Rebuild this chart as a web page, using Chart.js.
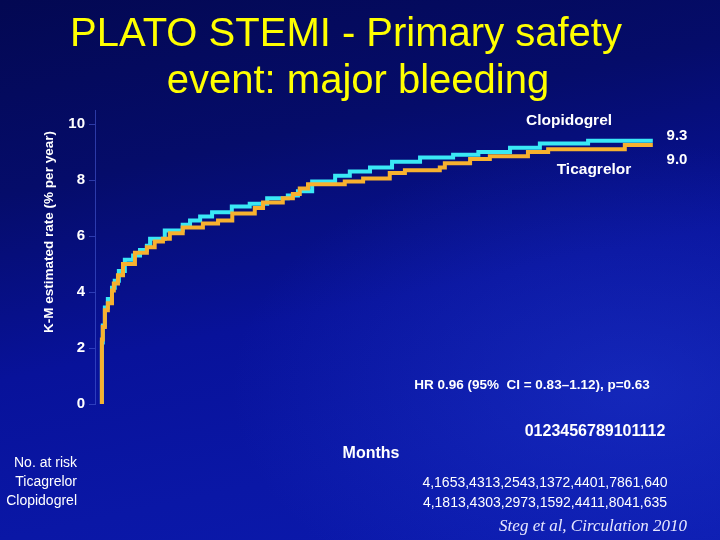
<!DOCTYPE html>
<html>
<head>
<meta charset="utf-8">
<script src="https://cdn.jsdelivr.net/npm/chart.js@4.4.1/dist/chart.umd.min.js"></script>
<style>
  body {
    margin: 0;
    width: 720px;
    height: 540px;
    overflow: hidden;
    background-color: #07108a;
    background-image:
      radial-gradient(ellipse at 88% 72%, rgba(40, 70, 225, 0.35), rgba(40, 70, 225, 0) 45%),
      linear-gradient(168deg, #030852 0%, #050c6a 28%, #08129a 55%, #0a17a6 78%, #0b1aae 100%);
  }
  #chart { display: block; }
</style>
</head>
<body>
<canvas id="chart" width="720" height="540"></canvas>
<script>
"use strict";

// chart data
const titleLines = ["PLATO STEMI - Primary safety", "event: major bleeding"];
const seriesNames = ["Ticagrelor", "Clopidogrel"];
const endLabels = ["9.0", "9.3"];

// months at each step and K-M rate (% per year) after it
const monthsTica = [0, 0.02, 0.065, 0.13, 0.22, 0.26, 0.35, 0.46, 0.72, 0.98, 1.15, 1.33, 1.48, 1.76, 2.2, 2.53, 2.84, 3.33, 3.51, 3.94, 4.16, 4.31, 4.49, 5.29, 5.69, 6.27, 6.6, 7.36, 7.47, 8.02, 8.45, 9.28, 9.72, 11.39, 11.94, 12.0];
const rateTica = [0, 2.3, 2.75, 3.35, 3.6, 4.05, 4.3, 4.6, 5.0, 5.4, 5.6, 5.8, 5.9, 6.1, 6.3, 6.45, 6.55, 6.8, 7.0, 7.2, 7.35, 7.5, 7.7, 7.85, 7.95, 8.05, 8.25, 8.35, 8.45, 8.6, 8.75, 8.85, 9.0, 9.1, 9.25, 9.25];

const monthsClopi = [0, 0.02, 0.065, 0.13, 0.22, 0.28, 0.37, 0.5, 0.68, 0.83, 0.98, 1.05, 1.37, 1.76, 1.92, 2.14, 2.4, 2.83, 3.22, 3.6, 4.05, 4.27, 4.58, 5.08, 5.4, 5.84, 6.32, 6.93, 7.65, 8.2, 8.89, 9.54, 10.59, 11.76, 12.0];
const rateClopi = [0, 2.2, 2.8, 3.45, 3.75, 4.15, 4.4, 4.75, 5.15, 5.3, 5.5, 5.65, 5.9, 6.2, 6.4, 6.55, 6.7, 6.85, 7.05, 7.15, 7.35, 7.45, 7.6, 7.95, 8.15, 8.3, 8.45, 8.65, 8.8, 8.9, 9.0, 9.15, 9.3, 9.4, 9.4];

const yTicks = [0, 2, 4, 6, 8, 10];
const monthTicks = [0, 1, 2, 3, 4, 5, 6, 7, 8, 9, 10, 11, 12];

const atRiskNames = ["No. at risk", "Ticagrelor", "Clopidogrel"];
// the at-risk rows came out garbled on the slide, kept as shown
const atRiskRows = ["4,1653,4313,2543,1372,4401,7861,640", "4,1813,4303,2973,1592,4411,8041,635"];

const hrText = "HR 0.96 (95%  CI = 0.83\u20131.12), p=0.63";
const citation = "Steg et al, Circulation 2010";

function toPoints(xs, ys) {
  return xs.map((m, i) => ({ x: m, y: ys[i] }));
}

function drawText(ctx, s, x, y, font, color, align) {
  ctx.font = font;
  ctx.fillStyle = color;
  ctx.textAlign = align || "left";
  ctx.textBaseline = "middle";
  ctx.fillText(s, x, y);
}

// all the loose slide text
const slideText = {
  id: "slideText",
  afterDraw(chart) {
    const ctx = chart.ctx;
    ctx.save();
    drawText(ctx, titleLines[0], 346, 35, "40px Arial", "#ffff00", "center");
    drawText(ctx, titleLines[1], 358, 82, "40px Arial", "#ffff00", "center");

    // y axis title
    ctx.save();
    ctx.translate(49, 232);
    ctx.rotate(-Math.PI / 2);
    drawText(ctx, "K-M estimated rate (% per year)", 0, 0, "bold 13.5px Arial", "#ffffff", "center");
    ctx.restore();

    drawText(ctx, seriesNames[1], 569, 121, "bold 15.5px Arial", "#ffffff", "center");
    drawText(ctx, seriesNames[0], 594, 170, "bold 15.5px Arial", "#ffffff", "center");
    drawText(ctx, endLabels[1], 677, 136, "bold 15px Arial", "#ffffff", "center");
    drawText(ctx, endLabels[0], 677, 160, "bold 15px Arial", "#ffffff", "center");

    drawText(ctx, hrText, 532, 385, "bold 13.5px Arial", "#ffffff", "center");
    drawText(ctx, monthTicks.join(""), 595, 432, "bold 16px Arial", "#ffffff", "center");
    drawText(ctx, "Months", 371, 454, "bold 16px Arial", "#ffffff", "center");

    for (let i = 0; i < atRiskNames.length; i++) {
      drawText(ctx, atRiskNames[i], 77, 463 + i * 19, "14px Arial", "#ffffff", "right");
    }
    for (let i = 0; i < atRiskRows.length; i++) {
      drawText(ctx, atRiskRows[i], 545, 483 + i * 20, "14px Arial", "#ffffff", "center");
    }
    drawText(ctx, citation, 593, 527, "italic 17px 'Liberation Serif', 'Times New Roman', serif", "#e8e8ff", "center");
    ctx.restore();
  }
};

const data = {
  datasets: [
    {
      label: seriesNames[0],
      data: toPoints(monthsTica, rateTica),
      borderColor: "#f7b12f",
      borderWidth: 4,
      stepped: "after",
      pointRadius: 0,
      fill: false,
      clip: false,
    },
    {
      label: seriesNames[1],
      data: toPoints(monthsClopi, rateClopi),
      borderColor: "#3ae8f5",
      borderWidth: 4,
      stepped: "after",
      pointRadius: 0,
      fill: false,
      clip: false,
    },
  ],
};

const config = {
  type: "line",
  data: data,
  options: {
    responsive: false,
    devicePixelRatio: 1,
    animation: false,
    layout: { padding: { left: 68, right: 58, top: 110, bottom: 136 } },
    plugins: {
      legend: { display: false },
      tooltip: { enabled: false },
    },
    scales: {
      x: {
        type: "linear",
        min: -0.15,
        max: 12.2,
        display: false,
      },
      y: {
        min: 0,
        max: 10.5,
        afterBuildTicks: (axis) => {
          axis.ticks = yTicks.map((v) => ({ value: v }));
        },
        afterFit: (axis) => {
          axis.width = 27;
        },
        ticks: {
          color: "#ffffff",
          font: { family: "Arial", size: 15, weight: "bold" },
          padding: 4,
        },
        grid: {
          drawOnChartArea: false,
          tickLength: 6,
          color: "rgba(70, 90, 210, 0.6)",
        },
        border: { display: true, color: "rgba(70, 90, 210, 0.6)" },
      },
    },
  },
  plugins: [slideText],
};

const myChart = new Chart(document.getElementById("chart"), config);
</script>
</body>
</html>
